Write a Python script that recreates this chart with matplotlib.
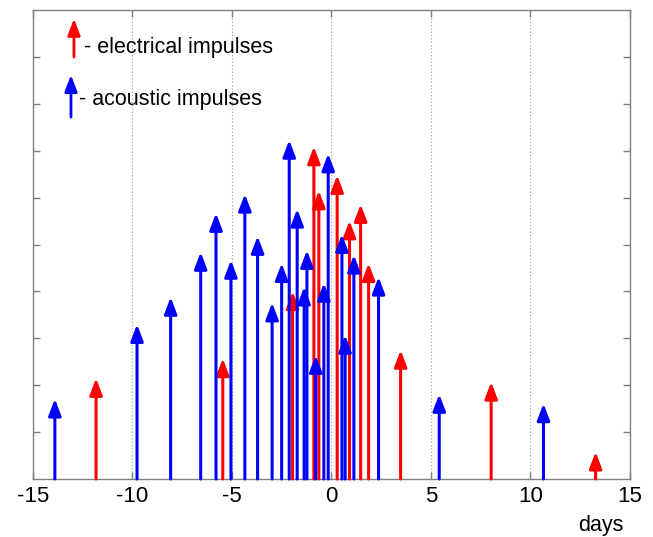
import matplotlib
matplotlib.use("Agg")
import matplotlib.pyplot as plt
from matplotlib.patches import ArrowStyle

plt.rcParams['font.family'] = ['Liberation Sans', 'DejaVu Sans']

# acoustic impulses (blue)
acoustic_days = [-13.9, -9.77, -8.08, -6.57, -5.80, -5.05, -4.35, -3.71, -2.98,
                 -2.50, -2.12, -1.72, -1.37, -1.23, -0.79, -0.38, -0.16, 0.53,
                 0.69, 1.13, 2.37, 5.42, 10.66]
acoustic_vals = [1.71, 3.30, 3.88, 4.84, 5.67, 4.67, 6.08, 5.18, 3.76,
                 4.60, 7.23, 5.76, 4.10, 4.88, 2.64, 4.18, 6.94, 5.22,
                 3.07, 4.78, 4.31, 1.81, 1.61]

# electrical impulses (red)
electrical_days = [-11.83, -5.46, -1.95, -0.88, -0.63, 0.29, 0.91, 1.47, 1.87,
                   3.48, 8.03, 13.28]
electrical_vals = [2.15, 2.57, 4.00, 7.09, 6.15, 6.48, 5.51, 5.86, 4.60,
                   2.75, 2.07, 0.58]

xticks = [-15, -10, -5, 0, 5, 10, 15]
yticks = [1, 2, 3, 4, 5, 6, 7, 8, 9]

RED = '#ff0000'
BLUE = '#0000ff'

fig = plt.figure(figsize=(6.53, 5.37), dpi=100)
ax = fig.add_axes([0.0505, 0.108, 0.914, 0.873])
ax.set_xlim(-15, 15)
ax.set_ylim(0, 10)

style = ArrowStyle('-|>', head_length=1.0, head_width=0.38)


def arrow(x, y0, y1, color, lw=2.2):
    ax.annotate('', xy=(x, y1), xytext=(x, y0),
                arrowprops=dict(arrowstyle=style, color=color, lw=lw,
                                shrinkA=0, shrinkB=0, mutation_scale=10),
                annotation_clip=False)


for x, v in zip(electrical_days, electrical_vals):
    arrow(x, 0, v, RED)
for x, v in zip(acoustic_days, acoustic_vals):
    arrow(x, 0, v, BLUE)

# legend drawn as in the original
arrow(-12.94, 9.0, 9.82, RED, lw=2.0)
arrow(-13.09, 7.72, 8.62, BLUE, lw=2.0)
ax.text(-12.45, 9.2, '- electrical impulses', fontsize=15.5, va='center', ha='left')
ax.text(-12.70, 8.1, '- acoustic impulses', fontsize=15.5, va='center', ha='left')

ax.set_xticks(xticks)
ax.set_xticklabels([str(t) for t in xticks])
ax.set_yticks(yticks)
ax.set_yticklabels([])
ax.tick_params(axis='both', direction='in', length=5, width=1, color='#808080',
               top=True, right=True, labelsize=16, pad=5)
ax.xaxis.grid(True, linestyle=(0, (1, 2)), color='#999999', linewidth=0.8)
ax.yaxis.grid(False)
ax.set_axisbelow(True)
for s in ax.spines.values():
    s.set_color('#808080')
    s.set_linewidth(1)

fig.text(601 / 653, 1 - 526 / 537, 'days', fontsize=15.5, ha='center', va='center')

fig.savefig('out.png', dpi=100)
